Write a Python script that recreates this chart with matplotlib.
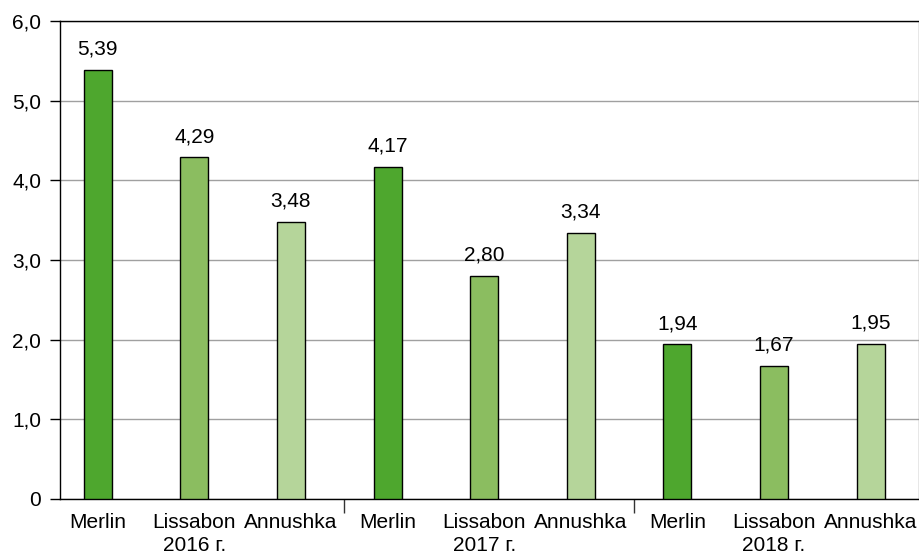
import matplotlib.pyplot as plt
from matplotlib.ticker import FixedLocator

plt.rcParams['font.family'] = ['Liberation Sans', 'DejaVu Sans']

varieties = ['Merlin', 'Lissabon', 'Annushka']
years = ['2016 г.', '2017 г.', '2018 г.']
values = [5.39, 4.29, 3.48, 4.17, 2.80, 3.34, 1.94, 1.67, 1.95]
colors = ['#4ea72e', '#8bbd60', '#b5d59a']
yticks = [0, 1, 2, 3, 4, 5, 6]
ytick_labels = ['0', '1,0', '2,0', '3,0', '4,0', '5,0', '6,0']

fs = 15

fig = plt.figure(figsize=(9.2, 5.56), dpi=100)
ax = fig.add_axes([60 / 920, 57 / 556, 859 / 920, 478 / 556])

xs = list(range(len(values)))
bar_colors = [colors[i % 3] for i in xs]
ax.bar(xs, values, width=0.29, color=bar_colors, edgecolor='black', linewidth=1, zorder=3)

for x, v in zip(xs, values):
    ax.annotate(f'{v:.2f}'.replace('.', ','), (x, v), xytext=(0, 8),
                textcoords='offset points', ha='center', va='bottom', fontsize=fs)

ax.set_xlim(-0.39, 8.5)
ax.set_ylim(0, 6)
ax.set_yticks(yticks)
ax.set_yticklabels(ytick_labels, fontsize=fs)
ax.tick_params(axis='y', length=7.5, width=1, pad=6)
ax.yaxis.grid(True, color='#a0a0a0', linewidth=1, zorder=0)

# category labels, year under the middle variety of each group
labels = []
for i in xs:
    name = varieties[i % 3]
    if i % 3 == 1:
        name += '\n' + years[i // 3]
    labels.append(name)
ax.set_xticks(xs)
ax.set_xticklabels(labels, fontsize=fs, linespacing=1.3)
ax.tick_params(axis='x', length=0, pad=10)

# group separators
ax.xaxis.set_minor_locator(FixedLocator([2.55, 5.55]))
ax.tick_params(axis='x', which='minor', length=10, width=1, color='#333333')

for s in ax.spines.values():
    s.set_color('black')
    s.set_linewidth(1)
ax.spines['right'].set_color('#888888')

fig.savefig('out.png', dpi=100)
